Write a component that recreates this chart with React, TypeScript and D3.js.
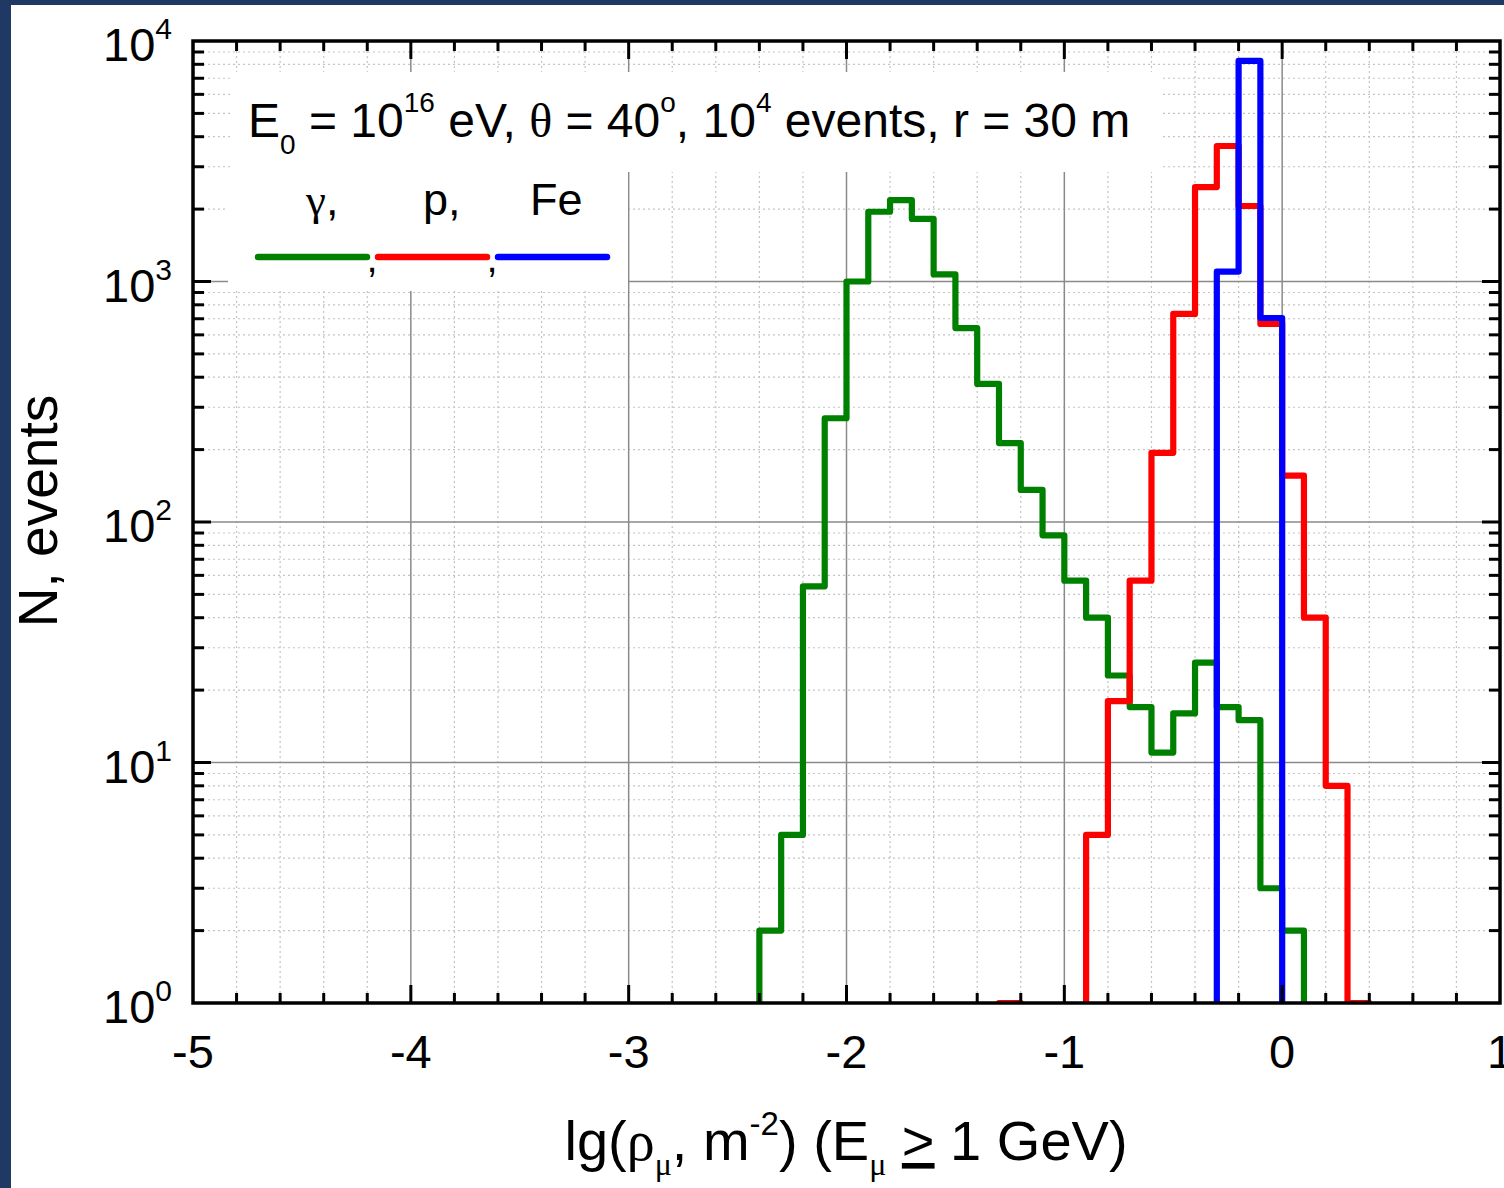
import React from "react";
import * as d3 from "d3";

// Histogram bin left edges, lg(rho_mu), bin width 0.1
const binLeft = [
  -2.5, -2.4, -2.3, -2.2, -2.1, -2.0, -1.9, -1.8, -1.7, -1.6,
  -1.5, -1.4, -1.3, -1.2, -1.1, -1.0, -0.9, -0.8, -0.7, -0.6,
  -0.5, -0.4, -0.3, -0.2, -0.1, 0.0, 0.1, 0.2, 0.3, 0.4,
];
const binWidth = 0.1;

// Event counts per bin
const gammaCounts = [
  0, 2, 5, 54, 270, 1000, 1950, 2180, 1820, 1070,
  640, 375, 213, 136, 88, 57, 40, 23, 17, 11,
  16, 26, 17, 15, 3, 2, 0, 0, 0, 0,
];
const protonCounts = [
  0, 0, 0, 0, 0, 0, 0, 0, 0, 0,
  0, 0, 1, 0, 0, 0, 5, 18, 57, 194,
  733, 2470, 3660, 2060, 666, 156, 40, 8, 1, 0,
];
const ironCounts = [
  0, 0, 0, 0, 0, 0, 0, 0, 0, 0,
  0, 0, 0, 0, 0, 0, 0, 0, 0, 0,
  0, 0, 1100, 8260, 705, 0, 0, 0, 0, 0,
];

const xTickValues = [-5, -4, -3, -2, -1, 0, 1];
const yDecades = [0, 1, 2, 3, 4];

const seriesColors = ["#008000", "#ff0000", "#0000ff"];

const W = 1504;
const H = 1188;
const L = 193, R = 1500, T = 41, B = 1003;
const SANS = "'Liberation Sans', Arial, sans-serif";
const SERIF = "'Liberation Serif', 'Times New Roman', serif";

export default function App() {
  const x = d3.scaleLinear().domain([-5, 1]).range([L, R]);
  const y = d3.scaleLog().domain([1, 1e4]).range([B, T]);

  const yv = (v: number) => (v > 0 ? y(v) : B + 40);

  const stepPath = (counts: number[]) => {
    const pts: [number, number][] = binLeft.map((b, i) => [x(b), yv(counts[i])]);
    const last = binLeft.length - 1;
    pts.push([x(binLeft[last] + binWidth), yv(counts[last])]);
    return d3.line().curve(d3.curveStepAfter)(pts) || "";
  };

  // minor grid / ticks
  const xMinor: number[] = [];
  for (let k = -5; k < 1; k++) {
    for (let j = 1; j <= 4; j++) xMinor.push(+(k + j * 0.2).toFixed(2));
  }
  const yMinor: number[] = [];
  for (let k = 0; k < 4; k++) {
    for (let m = 2; m <= 9; m++) yMinor.push(m * Math.pow(10, k));
  }
  const yMajor = yDecades.map((d) => Math.pow(10, d));

  const gridMinor = "#c4c4c4";
  const gridMajor = "#8a8a8a";

  return (
    <svg
      width={W}
      height={H}
      style={{ position: "absolute", left: 0, top: 0, display: "block" }}
      fontFamily={SANS}
    >
      <defs>
        <clipPath id="plotClip">
          <rect x={L} y={T} width={R - L} height={B - T} />
        </clipPath>
      </defs>
      <rect x={0} y={0} width={W} height={H} fill="#1f3864" />
      <rect x={11} y={5} width={W - 11} height={H - 5} fill="#ffffff" />

      {/* minor grid */}
      <g stroke={gridMinor} strokeWidth={1.2} strokeDasharray="2,3">
        {xMinor.map((v) => (
          <line key={"gx" + v} x1={x(v)} x2={x(v)} y1={T} y2={B} />
        ))}
        {yMinor.map((v) => (
          <line key={"gy" + v} x1={L} x2={R} y1={y(v)} y2={y(v)} />
        ))}
      </g>
      {/* major grid */}
      <g stroke={gridMajor} strokeWidth={1.5}>
        {xTickValues.slice(1, -1).map((v) => (
          <line key={"Gx" + v} x1={x(v)} x2={x(v)} y1={T} y2={B} />
        ))}
        {yMajor.slice(1, -1).map((v) => (
          <line key={"Gy" + v} x1={L} x2={R} y1={y(v)} y2={y(v)} />
        ))}
      </g>

      {/* text boxes */}
      <rect x={230} y={72} width={933} height={100} fill="#ffffff" />
      <rect x={228} y={170} width={400} height={121} fill="#ffffff" />

      {/* histograms */}
      <g clipPath="url(#plotClip)" fill="none" strokeWidth={6.2} strokeLinejoin="round">
        <path d={stepPath(gammaCounts)} stroke={seriesColors[0]} />
        <path d={stepPath(protonCounts)} stroke={seriesColors[1]} />
        <path d={stepPath(ironCounts)} stroke={seriesColors[2]} />
      </g>

      {/* ticks */}
      <g stroke="#000" strokeWidth={3}>
        {xTickValues.slice(1, -1).map((v) => (
          <g key={"tx" + v}>
            <line x1={x(v)} x2={x(v)} y1={B} y2={B - 18} />
            <line x1={x(v)} x2={x(v)} y1={T} y2={T + 18} />
          </g>
        ))}
        {xMinor.map((v) => (
          <g key={"mx" + v}>
            <line x1={x(v)} x2={x(v)} y1={B} y2={B - 10} />
            <line x1={x(v)} x2={x(v)} y1={T} y2={T + 10} />
          </g>
        ))}
        {yMajor.slice(1, -1).map((v) => (
          <g key={"ty" + v}>
            <line x1={L} x2={L + 18} y1={y(v)} y2={y(v)} />
            <line x1={R} x2={R - 18} y1={y(v)} y2={y(v)} />
          </g>
        ))}
        {yMinor.map((v) => (
          <g key={"my" + v}>
            <line x1={L} x2={L + 11} y1={y(v)} y2={y(v)} />
            <line x1={R} x2={R - 11} y1={y(v)} y2={y(v)} />
          </g>
        ))}
      </g>
      <rect x={L} y={T} width={R - L} height={B - T} fill="none" stroke="#000" strokeWidth={3.5} />

      {/* x tick labels */}
      <g fontSize={47} textAnchor="middle" fill="#000">
        {xTickValues.map((v) => (
          <text key={"lx" + v} x={x(v)} y={1068}>
            {v}
          </text>
        ))}
      </g>
      {/* y tick labels */}
      <g fill="#000" textAnchor="end">
        {yDecades.map((d) => (
          <text key={"ly" + d} x={172} y={y(Math.pow(10, d)) + 20} fontSize={47}>
            <tspan>10</tspan>
            <tspan fontSize={30} dy={-22}>
              {d}
            </tspan>
          </text>
        ))}
      </g>

      {/* axis titles */}
      <text x={57} y={511} transform="rotate(-90 57 511)" textAnchor="middle" fontSize={55}>
        N, events
      </text>
      <text x={846} y={1160} textAnchor="middle" fontSize={56}>
        <tspan>lg(</tspan>
        <tspan fontFamily={SERIF}>ρ</tspan>
        <tspan fontFamily={SERIF} fontSize={32} dy={15}>μ</tspan>
        <tspan dy={-15}>, m</tspan>
        <tspan fontSize={33} dy={-25}>-2</tspan>
        <tspan dy={25}>) (E</tspan>
        <tspan fontFamily={SERIF} fontSize={32} dy={15}>μ</tspan>
        <tspan dy={-15}> </tspan>
        <tspan textDecoration="underline">&gt;</tspan>
        <tspan> 1 GeV)</tspan>
      </text>

      {/* annotation */}
      <text x={248} y={137} fontSize={48}>
        <tspan>E</tspan>
        <tspan fontSize={28} dy={17}>0</tspan>
        <tspan dy={-17}> = 10</tspan>
        <tspan fontSize={28} dy={-25}>16</tspan>
        <tspan dy={25}> eV, </tspan>
        <tspan fontFamily={SERIF}>θ</tspan>
        <tspan> = 40</tspan>
        <tspan fontSize={28} dy={-25}>o</tspan>
        <tspan dy={25}>, 10</tspan>
        <tspan fontSize={28} dy={-25}>4</tspan>
        <tspan dy={25}> events, r = 30 m</tspan>
      </text>

      {/* legend */}
      <g fontSize={45}>
        <text x={306} y={215}>
          <tspan fontFamily={SERIF}>γ</tspan>
          <tspan>,</tspan>
        </text>
        <text x={423} y={215}>p,</text>
        <text x={530} y={215}>Fe</text>
      </g>
      <g strokeWidth={6.5} strokeLinecap="round">
        <line x1={258} x2={367} y1={257} y2={257} stroke={seriesColors[0]} />
        <line x1={378} x2={487} y1={257} y2={257} stroke={seriesColors[1]} />
        <line x1={498} x2={607} y1={257} y2={257} stroke={seriesColors[2]} />
      </g>
      <g fontSize={40} textAnchor="middle">
        <text x={372} y={272}>,</text>
        <text x={492} y={272}>,</text>
      </g>
    </svg>
  );
}
